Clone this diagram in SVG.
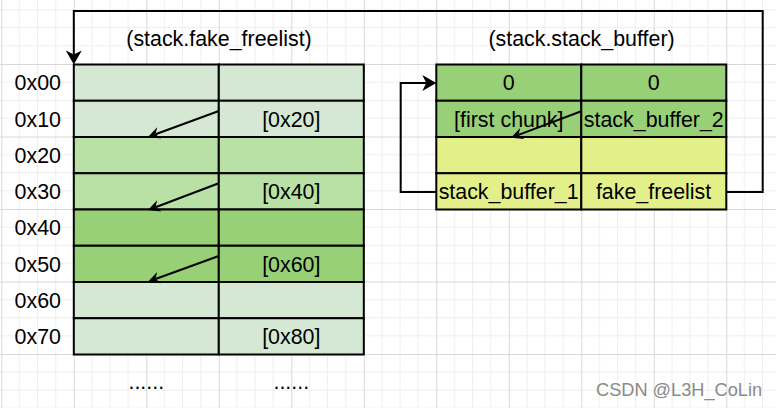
<svg xmlns="http://www.w3.org/2000/svg" width="776" height="408" viewBox="0 0 776 408">
<style>
text{font-family:"Liberation Sans",Arial,sans-serif;font-size:21.4px;fill:#000;text-anchor:middle}
.cell{stroke:#000;stroke-width:2}
.g1{fill:#d5e8d4}.g2{fill:#b9e0a5}.g3{fill:#97d077}.y{fill:#e3f08a}
.edge{fill:none;stroke:#000;stroke-width:2}
.wm{font-size:18.2px;fill:#8a8a8a;text-anchor:start}
</style>
<defs>
<pattern id="grid" patternUnits="userSpaceOnUse" x="1.3" y="64" width="72.5" height="72.5">
<path d="M18.125,0V72.5M36.25,0V72.5M54.375,0V72.5M0,18.125H72.5M0,36.25H72.5M0,54.375H72.5" stroke="#eeeeee" stroke-width="1" fill="none"/>
<path d="M0.5,0V72.5M0,0.5H72.5" stroke="#d9d9d9" stroke-width="1" fill="none"/>
</pattern>
<marker id="big" markerUnits="userSpaceOnUse" markerWidth="20" markerHeight="20" viewBox="-6 -10 20 20" refX="0" refY="0" orient="auto">
<path d="M10,0 L-4,-8 L0,0 L-4,8 Z" fill="#000"/>
</marker>
<marker id="small" markerUnits="userSpaceOnUse" markerWidth="16" markerHeight="16" viewBox="-6 -8 16 16" refX="0" refY="0" orient="auto">
<path d="M8,0 L-4,-6 L0,0 L-4,6 Z" fill="#000"/>
</marker>
</defs>
<rect width="776" height="408" fill="#fff"/>
<rect width="776" height="408" fill="url(#grid)"/>

<g id="fake_freelist">
<text x="219" y="46">(stack.fake_freelist)</text>
<rect class="cell g1" x="73.8" y="64.5" width="145" height="36.25"/><rect class="cell g1" x="218.8" y="64.5" width="145" height="36.25"/>
<rect class="cell g1" x="73.8" y="100.75" width="145" height="36.25"/><rect class="cell g1" x="218.8" y="100.75" width="145" height="36.25"/>
<rect class="cell g2" x="73.8" y="137" width="145" height="36.25"/><rect class="cell g2" x="218.8" y="137" width="145" height="36.25"/>
<rect class="cell g2" x="73.8" y="173.25" width="145" height="36.25"/><rect class="cell g2" x="218.8" y="173.25" width="145" height="36.25"/>
<rect class="cell g3" x="73.8" y="209.5" width="145" height="36.25"/><rect class="cell g3" x="218.8" y="209.5" width="145" height="36.25"/>
<rect class="cell g3" x="73.8" y="245.75" width="145" height="36.25"/><rect class="cell g3" x="218.8" y="245.75" width="145" height="36.25"/>
<rect class="cell g1" x="73.8" y="282" width="145" height="36.25"/><rect class="cell g1" x="218.8" y="282" width="145" height="36.25"/>
<rect class="cell g1" x="73.8" y="318.25" width="145" height="36.25"/><rect class="cell g1" x="218.8" y="318.25" width="145" height="36.25"/>
<text x="291.3" y="126.6">[0x20]</text>
<text x="291.3" y="199.1">[0x40]</text>
<text x="291.3" y="271.6">[0x60]</text>
<text x="291.3" y="344.1">[0x80]</text>
</g>

<g id="offsets">
<text x="37.8" y="90.3">0x00</text>
<text x="37.8" y="126.6">0x10</text>
<text x="37.8" y="162.8">0x20</text>
<text x="37.8" y="199.1">0x30</text>
<text x="37.8" y="235.3">0x40</text>
<text x="37.8" y="271.6">0x50</text>
<text x="37.8" y="307.8">0x60</text>
<text x="37.8" y="344.1">0x70</text>
</g>

<g id="ellipsis">
<text x="146.3" y="389">......</text>
<text x="291.3" y="389">......</text>
</g>

<g id="stack_buffer">
<text x="581.5" y="46">(stack.stack_buffer)</text>
<rect class="cell g3" x="436.3" y="64.5" width="145" height="36.25"/><rect class="cell g3" x="581.3" y="64.5" width="145" height="36.25"/>
<rect class="cell g3" x="436.3" y="100.75" width="145" height="36.25"/><rect class="cell g3" x="581.3" y="100.75" width="145" height="36.25"/>
<rect class="cell y" x="436.3" y="137" width="145" height="36.25"/><rect class="cell y" x="581.3" y="137" width="145" height="36.25"/>
<rect class="cell y" x="436.3" y="173.25" width="145" height="36.25"/><rect class="cell y" x="581.3" y="173.25" width="145" height="36.25"/>
<text x="508.8" y="90.3">0</text>
<text x="653.8" y="90.3">0</text>
<text x="508.8" y="126.6">[first chunk]</text>
<text x="653.8" y="126.6">stack_buffer_2</text>
<text x="508.6" y="199.1">stack_buffer_1</text>
<text x="653.6" y="199.1">fake_freelist</text>
</g>

<g id="connectors">
<path class="edge" d="M726.3,192 H762.7 V11 H73.8 V54.5" marker-end="url(#big)"/>
<path class="edge" d="M436.3,192 H400.7 V83 H426.3" marker-end="url(#big)"/>
<path class="edge" d="M218.8,111 L155.5,134.2" marker-end="url(#small)"/>
<path class="edge" d="M218.8,183.3 L155.5,207.2" marker-end="url(#small)"/>
<path class="edge" d="M218.8,256 L155.5,279" marker-end="url(#small)"/>
<path class="edge" d="M581.3,111.3 L518.5,134.9" marker-end="url(#small)"/>
</g>

<text class="wm" x="596" y="395.5">CSDN @L3H_CoLin</text>
</svg>
